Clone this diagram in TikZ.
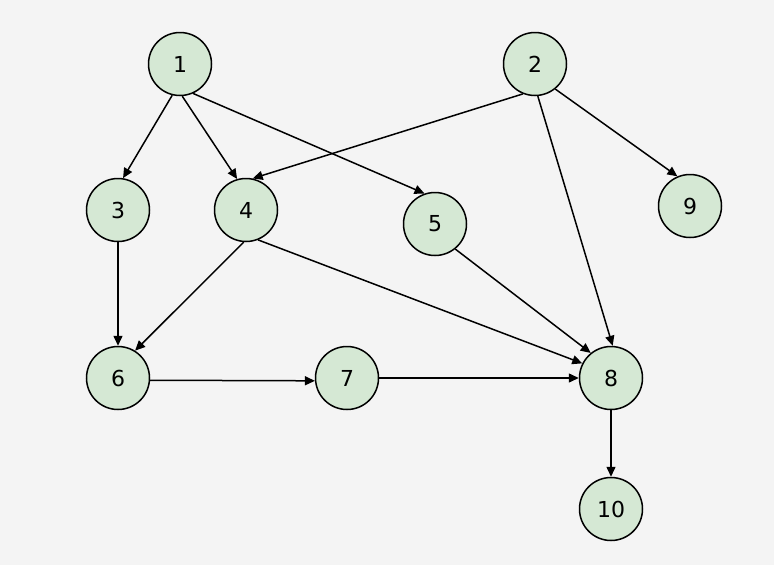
\documentclass[tikz,border=0pt]{standalone}
\usepackage{fontspec}
\setmainfont{DejaVu Sans}
\usetikzlibrary{arrows.meta}
\definecolor{bgcol}{HTML}{F4F4F4}
\definecolor{nodecol}{HTML}{D5E8D4}
\tikzset{
  vert/.style={circle, draw=black, line width=1.5pt, fill=nodecol,
    minimum size=63pt, inner sep=0pt, font=\fontsize{22}{25}\selectfont},
  edge/.style={line width=1.5pt, -{Triangle[length=10pt,width=9pt]}}
}
\begin{document}
\begin{tikzpicture}[x=1pt,y=-1pt]
            \fill[bgcol] (0,0) rectangle (774,565);
            \useasboundingbox (0,0) rectangle (774,565);

            %Nodes
            \node[vert] at (180,64) (n1) {1};
            \node[vert] at (535,64) (n2) {2};
            \node[vert] at (118,210) (n3) {3};
            \node[vert] at (246,210) (n4) {4};
            \node[vert] at (435,224) (n5) {5};
            \node[vert] at (690,206) (n9) {9};
            \node[vert] at (118,378) (n6) {6};
            \node[vert] at (347,378) (n7) {7};
            \node[vert] at (611,378) (n8) {8};
            \node[vert] at (611,509) (n10) {10};

            %Lines
            \draw[edge] (n1.256) -- (n3.81);
            \draw[edge] (n1.274) -- (n4.106);
            \draw[edge] (n1.294) -- (n5.109);
            \draw[edge] (n2.248) -- (n4.78);
            \draw[edge] (n2.275) -- (n8.87);
            \draw[edge] (n2.309) -- (n9.113);
            \draw[edge] (n3.270) -- (n6.90);
            \draw[edge] (n4.266) -- (n6.58);
            \draw[edge] (n4.292) -- (n8.153);
            \draw[edge] (n5.309) -- (n8.129);
            \draw[edge] (n6.356) -- (n7.185);
            \draw[edge] (n7) -- (n8);
            \draw[edge] (n8) -- (n10);
        \end{tikzpicture}
\end{document}
